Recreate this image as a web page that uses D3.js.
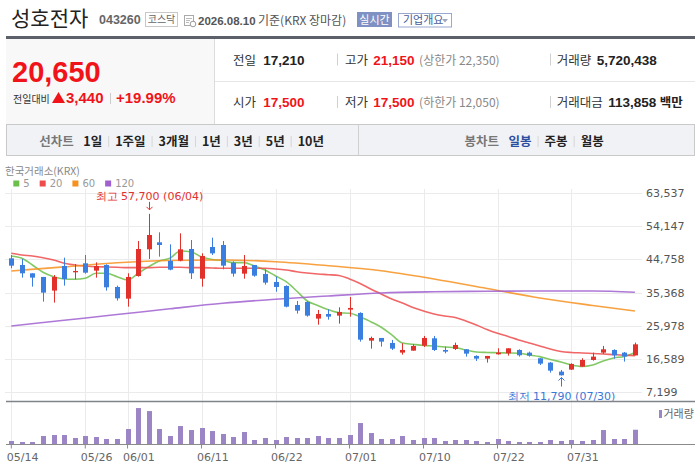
<!DOCTYPE html>
<html>
<head>
<meta charset="utf-8">
<script src="https://cdn.jsdelivr.net/npm/d3@7"></script>
<style>
  body { margin: 0; background: #fff; overflow: hidden; }
  svg { display: block; }
</style>
</head>
<body>
<svg id="chart" width="695" height="466"></svg>
<script>
// ---- data ----
const dates = ["05/14","05/15","05/18","05/19","05/20","05/21","05/22","05/26","05/27","05/28",
  "05/29","06/01","06/02","06/04","06/05","06/08","06/09","06/10","06/11","06/12",
  "06/15","06/16","06/17","06/18","06/19","06/22","06/23","06/24","06/25","06/26",
  "06/29","06/30","07/01","07/02","07/03","07/06","07/07","07/08","07/09","07/10",
  "07/13","07/14","07/15","07/16","07/20","07/21","07/22","07/23","07/24","07/27",
  "07/28","07/29","07/30","07/31","08/03","08/04","08/05","08/06","08/07","08/10"];

const opens = [45070,43180,40820,39780,35900,42900,41100,43660,41570,43180,
  36940,33620,40060,47630,49620,44320,44410,47720,39300,48290,
  48860,43840,40720,43180,40630,38360,37220,31830,32680,27950,
  29270,28800,30500,29560,21700,22460,21040,18300,18860,20280,
  22360,19050,19340,19240,17350,16590,17820,18100,19050,18290,
  16690,15460,12900,13470,14320,16210,18290,19050,18290,17500];
const highs = [46020,44890,40820,39780,40340,45260,43470,46020,43940,43370,
  37320,40820,50000,57700,52460,49050,52170,50280,46490,50940,
  50000,44220,46020,43180,41950,39870,37410,32960,32870,30410,
  30600,31160,34100,29750,22840,22460,21890,20940,20660,23030,
  23030,20000,21130,19240,17540,17350,19520,19520,19240,18580,
  16690,15640,13370,15270,16690,18290,20190,19240,18480,21150];
const lows = [42240,39590,37030,32770,32490,37320,39110,40720,39590,35900,
  33060,31350,39870,44890,45550,41670,44220,39210,37030,46020,
  41950,39870,39300,39870,37600,35610,31160,29370,28510,26240,
  27660,26530,28510,21420,19430,20000,19050,17730,18860,19900,
  18770,18100,19050,17160,15930,15460,17730,17440,17160,17160,
  14790,12620,11790,13370,14220,16020,17920,16590,15740,17500];
const closes = [42990,40820,39590,35330,39780,39210,41480,41000,42900,36840,
  33720,39780,47720,51700,48860,41860,47630,40820,45740,46490,
  42990,40720,42900,40150,38170,36940,31350,30220,28800,29270,
  28510,29840,30980,21980,22460,21420,19430,19050,20190,22460,
  19050,18580,20470,18010,16590,17350,18290,19520,17540,17440,
  15170,13180,11860,15080,16210,17160,19240,17540,17210,20650];
const volumes = [1300000,900000,900000,3250000,3650000,3650000,2470000,3250000,2860000,2080000,
  2080000,6000000,14230000,13050000,6000000,3250000,7170000,5600000,6390000,5210000,
  4040000,2860000,4820000,1690000,2470000,1690000,2860000,2470000,2470000,3250000,
  2470000,2470000,3650000,8350000,4430000,2080000,2080000,3250000,1690000,2470000,
  2470000,1300000,1690000,1690000,1300000,900000,2080000,1300000,900000,900000,
  900000,1690000,1300000,1690000,1300000,1690000,5600000,2080000,2080000,5720438];

const ma5 = [45740,45080,43180,41110,39860,39210,39120,39410,40830,40830,
  39860,38920,40830,42700,44320,45080,47160,46960,45450,44740,
  44460,43840,43840,42900,41760,40060,38440,35800,32960,31680,
  30490,29640,29470,28500,27080,25500,23310,21040,20670,20330,
  20190,19900,19760,19050,18480,18340,18280,18200,18110,17630,
  17150,16350,15640,14790,14370,14790,15930,16780,17210,18360];
const ma20 = [46500,46020,45740,45250,44600,43660,43180,42900,42700,42610,
  42530,42420,42420,42420,42530,42530,42530,42420,42420,42330,
  42240,42240,42240,42240,42240,42050,41760,41280,40910,40630,
  40430,40200,39210,37930,36370,34950,33530,32390,31120,30120,
  29270,28700,28280,27280,26150,24870,23790,22880,21890,21040,
  20190,19330,18620,18340,18200,18060,17910,17720,17550,17430];
const maSlowDates = ["05/14","05/21","05/29","06/08","06/15","06/22","06/29","07/06","07/13","07/21","07/28","08/04","08/10"];
const ma60 = [41480,42640,43810,44460,44600,44120,42980,41560,39210,36510,33810,31680,30120];
const ma120 = [25860,27480,29100,30750,32310,33440,34380,35230,35570,35720,35800,35800,35460];

const priceTicks = [7199,16589,25978,35368,44758,54147,63537];
const dateTicks = ["05/14","05/26","06/01","06/11","06/22","07/01","07/10","07/22","07/31"];
const maLabels = ["5","20","60","120"];
const maColors = ["#6cc04a","#ee4b4b","#f7901e","#a060d0"];

const rangeTabs = ["1일","1주일","3개월","1년","3년","5년","10년"];
const candleTabs = ["일봉","주봉","월봉"];

// ---- setup ----
const KR = "'Noto Sans CJK KR', 'Noto Sans', sans-serif";
const NUM = "'Liberation Sans', Arial, sans-serif";
const AX = "'DejaVu Sans', sans-serif";
const RED = "#f0141a";
const UP = "#e2302b";
const DOWN = "#3a7ee0";
const VOL = "#9b85c5";

const svg = d3.select("#chart");
const fmt = d3.format(",");

// helper for a plain text element
function label(g, x, y, str, size, color, font, weight) {
  return g.append("text")
    .attr("x", x).attr("y", y)
    .style("font-family", font || KR)
    .style("font-size", size + "px")
    .style("font-weight", weight || "normal")
    .attr("fill", color)
    .text(str);
}

// ---- title row ----
const head = svg.append("g");
label(head, 11, 26, "성호전자", 21, "#222");
label(head, 99, 24, "043260", 12.5, "#666", NUM, "bold");
head.append("rect").attr("x", 145.5).attr("y", 12.5).attr("width", 32).attr("height", 14)
  .attr("fill", "#fff").attr("stroke", "#c8c8c8");
label(head, 161.5, 23.3, "코스닥", 10, "#666").attr("text-anchor", "middle");
// small calendar icon
head.append("rect").attr("x", 184.5).attr("y", 15.5).attr("width", 9).attr("height", 10)
  .attr("fill", "#fff").attr("stroke", "#aaa");
head.append("path").attr("d", "M186,18.5H192M186,20.5H190M186,22.5H189").attr("stroke", "#bbb");
head.append("circle").attr("cx", 193).attr("cy", 24).attr("r", 2.8).attr("fill", "#fff").attr("stroke", "#999");
label(head, 198, 24.5, "2026.08.10", 11.5, "#555", NUM, "bold");
label(head, 258, 24.5, "기준(KRX 장마감)", 12, "#555");
head.append("rect").attr("x", 357).attr("y", 12).attr("width", 35).attr("height", 15).attr("fill", "#7f90c3");
label(head, 374.5, 23.5, "실시간", 11, "#fff").attr("text-anchor", "middle");
head.append("rect").attr("x", 398.5).attr("y", 13.5).attr("width", 53).attr("height", 13.5)
  .attr("fill", "#fff").attr("stroke", "#9aa7cf");
label(head, 403, 24, "기업개요", 11, "#4a5c98");
head.append("path").attr("d", "M442,19H448L445,22.5Z").attr("fill", "#a0a8c0");

svg.append("rect").attr("x", 6).attr("y", 36).attr("width", 689).attr("height", 3).attr("fill", "#5c6068");

// ---- price summary ----
const info = svg.append("g");
info.append("rect").attr("x", 6).attr("y", 39).attr("width", 208).attr("height", 85).attr("fill", "#f8f8f8");
info.append("line").attr("x1", 214.5).attr("x2", 214.5).attr("y1", 39).attr("y2", 124).attr("stroke", "#dcdcdc");
info.append("line").attr("x1", 215).attr("x2", 695).attr("y1", 81.5).attr("y2", 81.5).attr("stroke", "#e6e6e6");

label(info, 12, 81.5, fmt(closes[59]), 29, RED, NUM, "bold");
label(info, 13, 103, "전일대비", 10, "#333");
info.append("path").attr("d", "M52,103L58.5,92L65,103Z").attr("fill", RED);
label(info, 66, 103.3, fmt(closes[59] - closes[58]), 15, RED, NUM, "bold");
info.append("line").attr("x1", 110.5).attr("x2", 110.5).attr("y1", 93).attr("y2", 104).attr("stroke", "#ccc");
label(info, 116, 103.3, "+" + ((closes[59] / closes[58] - 1) * 100).toFixed(2) + "%", 15, RED, NUM, "bold");

const rows = [
  [["전일", fmt(closes[58]), "#222"], ["고가", fmt(highs[59]), RED, "(상한가 22,350)"], ["거래량", fmt(volumes[59]), "#222"]],
  [["시가", fmt(opens[59]), RED], ["저가", fmt(lows[59]), RED, "(하한가 12,050)"], ["거래대금", "113,858", "#222", "백만"]]
];
const colX = [[233, 263.3], [345, 373.3], [556.7, 596.7]];
rows.forEach((row, r) => {
  const base = r === 0 ? 64.5 : 107;
  row.forEach((cell, c) => {
    label(info, colX[c][0], base, cell[0], 12.5, "#333");
    const vx = c === 2 && r === 1 ? 608.3 : colX[c][1];
    const v = label(info, vx, base, cell[1], 13.5, cell[2], NUM, "bold");
    if (cell[3]) {
      const w = v.node().getComputedTextLength();
      if (c === 1) label(info, vx + w + 4.5, base, cell[3], 12, "#888");
      else label(info, vx + w + 3.5, base, cell[3], 12.5, "#222", KR, "bold");
    }
  });
  [337, 550].forEach(sx => info.append("line").attr("x1", sx + 0.5).attr("x2", sx + 0.5)
    .attr("y1", base - 11).attr("y2", base + 1).attr("stroke", "#d0d0d0"));
});

// ---- tab bar ----
const tabs = svg.append("g");
tabs.append("rect").attr("x", 6.5).attr("y", 124.5).attr("width", 688).attr("height", 31)
  .attr("fill", "#f1f2f6").attr("stroke", "#c9c9c9");
tabs.append("line").attr("x1", 358.5).attr("x2", 358.5).attr("y1", 125).attr("y2", 155).attr("stroke", "#d0d0d0");
function tabRow(startX, title, items, activeIdx) {
  label(tabs, startX, 145.5, title, 12.5, "#777", KR, "bold");
  let tx = startX + 44;
  items.forEach((t, i) => {
    const el = label(tabs, tx, 145.5, t, 12.5, i === activeIdx ? "#2b4ea0" : "#222", KR, "bold");
    const w = el.node().getComputedTextLength();
    if (i < items.length - 1) {
      tabs.append("line").attr("x1", tx + w + 6.5).attr("x2", tx + w + 6.5)
        .attr("y1", 136).attr("y2", 147).attr("stroke", "#d6d6d6");
    }
    tx += w + 13;
  });
}
tabRow(39.3, "선차트", rangeTabs, -1);
tabRow(464.6, "봉차트", candleTabs, 0);

// ---- chart ----
const x = d3.scaleBand().domain(dates).range([6, 640.2]);
const cx = d => x(d) + x.bandwidth() / 2;
const y = d3.scaleLinear().domain([7199, 63537]).range([391.7, 193.3]);
const vy = d3.scaleLinear().domain([0, 17000000]).range([444.3, 401]);

const chart = svg.append("g");

label(chart, 5, 174.5, "한국거래소(KRX)", 10.5, "#888");
let lx = 13.3;
maLabels.forEach((m, i) => {
  chart.append("rect").attr("x", lx).attr("y", 180.5).attr("width", 6).attr("height", 6).attr("fill", maColors[i]);
  const t = label(chart, lx + 10, 187, m, 10, "#999", AX);
  lx += 10 + t.node().getComputedTextLength() + 10;
});

// grid
chart.append("g").selectAll("line").data(priceTicks).join("line")
  .attr("x1", 5).attr("x2", 642)
  .attr("y1", d => Math.round(y(d)) + 0.5).attr("y2", d => Math.round(y(d)) + 0.5)
  .attr("stroke", "#ebebeb");
chart.append("g").selectAll("line").data(dateTicks).join("line")
  .attr("x1", d => Math.round(cx(d)) + 0.5).attr("x2", d => Math.round(cx(d)) + 0.5)
  .attr("y1", 189).attr("y2", 444)
  .attr("stroke", "#ebebeb");

// price axis
const yAxis = chart.append("g").attr("transform", "translate(646,0)")
  .call(d3.axisRight(y).tickValues(priceTicks).tickFormat(fmt).tickSize(0).tickPadding(0));
yAxis.select(".domain").remove();
yAxis.selectAll("text").style("font-family", AX).style("font-size", "11px").attr("fill", "#555");

// moving averages
const line = d3.line().curve(d3.curveMonotoneX);
const maSeries = [
  { days: dates, vals: ma5, color: maColors[0] },
  { days: dates, vals: ma20, color: maColors[1] },
  { days: maSlowDates, vals: ma60, color: maColors[2] },
  { days: maSlowDates, vals: ma120, color: maColors[3] }
];
chart.append("g").selectAll("path").data(maSeries).join("path")
  .attr("d", s => line(s.days.map((d, i) => [cx(d), y(s.vals[i])])))
  .attr("fill", "none")
  .attr("stroke", s => s.color)
  .attr("stroke-width", 1.6)
  .attr("stroke-opacity", 0.85);

// candles
const candles = dates.map((d, i) => ({ d, o: opens[i], h: highs[i], l: lows[i], c: closes[i] }));
const cg = chart.append("g").selectAll("g").data(candles).join("g");
cg.append("line")
  .attr("x1", d => Math.round(cx(d.d)) + 0.5).attr("x2", d => Math.round(cx(d.d)) + 0.5)
  .attr("y1", d => y(d.h)).attr("y2", d => y(d.l))
  .attr("stroke", d => d.c >= d.o ? UP : DOWN);
cg.append("rect")
  .attr("x", d => Math.round(cx(d.d)) - 2)
  .attr("width", 5)
  .attr("y", d => y(Math.max(d.o, d.c)))
  .attr("height", d => Math.max(1, Math.abs(y(d.o) - y(d.c))))
  .attr("fill", d => d.c >= d.o ? UP : DOWN);

// high / low marks
const hiIdx = d3.maxIndex(highs);
const loIdx = d3.minIndex(lows);
const hx = Math.round(cx(dates[hiIdx])) + 0.5, hy = y(highs[hiIdx]);
chart.append("path").attr("d", `M${hx},${hy - 12}V${hy - 4}M${hx - 3},${hy - 7}L${hx},${hy - 4}L${hx + 3},${hy - 7}`)
  .attr("fill", "none").attr("stroke", "#e3312f");
label(chart, hx, hy - 14, "최고 " + fmt(highs[hiIdx]) + " (" + dates[hiIdx] + ")", 11, "#e3312f", AX)
  .attr("text-anchor", "middle");
const lowX = Math.round(cx(dates[loIdx])) + 0.5, ly = y(lows[loIdx]);
chart.append("path").attr("d", `M${lowX},${ly + 11}V${ly + 2}M${lowX - 3},${ly + 5}L${lowX},${ly + 2}L${lowX + 3},${ly + 5}`)
  .attr("fill", "none").attr("stroke", "#3a78d8");
label(chart, lowX, ly + 24, "최저 " + fmt(lows[loIdx]) + " (" + dates[loIdx] + ")", 11, "#3a78d8", AX)
  .attr("text-anchor", "middle");

// volume panel
chart.append("line").attr("x1", 6).attr("x2", 695).attr("y1", 401.5).attr("y2", 401.5)
  .attr("stroke", "#80848a").attr("stroke-width", 1.5);
chart.append("g").selectAll("rect").data(volumes).join("rect")
  .attr("x", (v, i) => Math.round(cx(dates[i])) - 2)
  .attr("width", 5)
  .attr("y", v => vy(v))
  .attr("height", v => vy(0) - vy(v))
  .attr("fill", VOL);
chart.append("rect").attr("x", 659).attr("y", 410).attr("width", 3).attr("height", 8).attr("fill", VOL);
label(chart, 663.5, 417.5, "거래량", 11, "#666");

// date axis
const xAxis = chart.append("g").attr("transform", "translate(0,444.5)")
  .call(d3.axisBottom(x).tickValues(dateTicks).tickSize(4).tickPadding(5));
xAxis.select(".domain").attr("d", "M6,0H695").attr("stroke", "#8a8a8a");
xAxis.selectAll(".tick line").attr("stroke", "#8a8a8a");
xAxis.selectAll("text")
  .attr("text-anchor", "start").attr("dx", "-4.5px")
  .style("font-family", AX).style("font-size", "11px").attr("fill", "#666");
</script>
</body>
</html>
